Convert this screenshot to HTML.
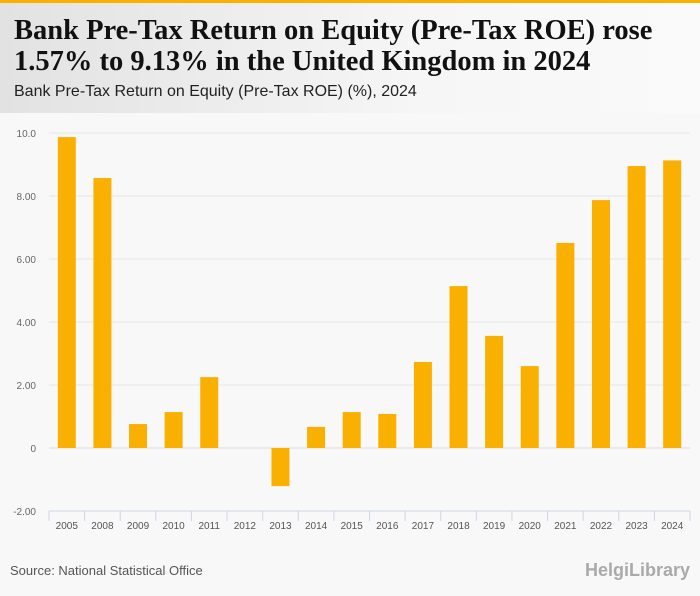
<!DOCTYPE html>
<html><head><meta charset="utf-8"><style>
body{margin:0;width:700px;height:596px;background:#f8f8f8;font-family:"Liberation Sans",sans-serif;overflow:hidden;position:relative}
#hdr{position:absolute;left:0;top:0;width:700px;height:113px;background:linear-gradient(90deg,#e2e2e2,#f6f6f6 60%,#fafafa)}
#bar{position:absolute;left:0;top:0;width:700px;height:3px;background:#f9b000}
#t{position:absolute;left:14px;top:15px;font:bold 28.5px/31px "Liberation Serif",serif;color:#111;letter-spacing:0px}
#s{position:absolute;left:14px;top:83px;font:16px "Liberation Sans",sans-serif;color:#222}
#src{position:absolute;left:10px;top:563px;font:13px "Liberation Sans",sans-serif;color:#555}
#logo{position:absolute;right:10px;top:560px;font:bold 18px "Liberation Sans",sans-serif;color:#aaa}
</style></head><body>
<div id="hdr"></div>
<div id="bar"></div>
<div id="t">Bank Pre-Tax Return on Equity (Pre-Tax ROE) rose<br>1.57% to 9.13% in the United Kingdom in 2024</div>
<div id="s">Bank Pre-Tax Return on Equity (Pre-Tax ROE) (%), 2024</div>
<svg id="c" width="700" height="596" style="position:absolute;left:0;top:0"></svg>
<div id="src">Source: National Statistical Office</div>
<div id="logo">HelgiLibrary</div>
<script>
const categories=["2005","2008","2009","2010","2011","2012","2013","2014","2015","2016","2017","2018","2019","2020","2021","2022","2023","2024"];
const values=[9.87,8.57,0.76,1.14,2.25,0,-1.21,0.67,1.14,1.08,2.73,5.14,3.56,2.6,6.51,7.87,8.95,9.13];
const ticks=[-2,0,2,4,6,8,10];
const tickLabels=["-2.00","0","2.00","4.00","6.00","8.00","10.0"];
const NS="http://www.w3.org/2000/svg";
const svg=document.getElementById('c');
const x0=49,x1=690,yTop=133,yZero=448;
const step=(x1-x0)/categories.length;
const y=v=>yZero-(v)*(yZero-yTop)/10;
function el(t,a){const e=document.createElementNS(NS,t);for(const k in a)e.setAttribute(k,a[k]);svg.appendChild(e);return e;}
ticks.forEach((t,i)=>{
 if(t!==-2){const g=el('line',{x1:x0,x2:x1,y1:y(t),y2:y(t),stroke:t===0?'#ddd':'#e6e6e6','stroke-width':1});
 
 }
 const l=el('text',{x:36,y:y(t)+4,'text-anchor':'end','font-size':10,fill:'#666','font-family':'Liberation Sans'});
 l.textContent=tickLabels[i];
 
 
});
const ax=el('line',{x1:x0,x2:x1,y1:y(-2),y2:y(-2),stroke:'#ccd6eb','stroke-width':1});


categories.forEach((c,i)=>{
 const tk=el('line',{x1:x0+i*step,x2:x0+i*step,y1:y(-2),y2:y(-2)+10,stroke:'#ccd6eb'});
 
 
 const v=values[i];
 const r=el('rect',{x:x0+i*step+step/2-9,y:Math.min(y(v),yZero),width:18,height:Math.abs(y(v)-yZero),fill:'#f9b000'});
 
 
 const l=el('text',{x:x0+i*step+step/2,y:529,'text-anchor':'middle','font-size':10,fill:'#555','font-family':'Liberation Sans'});
 l.textContent=c;
 
 
});
const lt=el('line',{x1:x1,x2:x1,y1:y(-2),y2:y(-2)+10,stroke:'#ccd6eb'});


</script>
</body></html>
